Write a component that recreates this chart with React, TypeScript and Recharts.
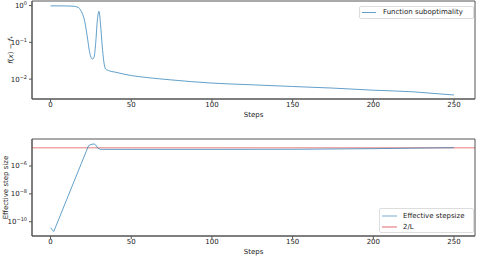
import React from 'react';
import { LineChart, Line, XAxis, YAxis, ReferenceLine, ReferenceArea } from 'recharts';

const xTicks = [0, 50, 100, 150, 200, 250];

const subSteps = [0, 5, 10, 14, 17, 19, 21, 23, 24, 25, 26, 27, 28, 29, 30, 31, 32, 33, 34, 36, 40, 50, 60, 75, 100, 125, 150, 175, 200, 225, 240, 250];
const subValues = [0.98, 0.98, 0.975, 0.96, 0.9, 0.7, 0.4, 0.12, 0.06, 0.04, 0.035, 0.04, 0.1, 0.4, 0.7, 0.3, 0.08, 0.03, 0.019, 0.017, 0.0155, 0.0125, 0.011, 0.0095, 0.0078, 0.007, 0.0063, 0.0057, 0.005, 0.0045, 0.004, 0.0037];
const subTicks = [0.01, 0.1, 1];

const stepSteps = [0, 2, 10, 19, 22, 23.5, 25, 27, 28, 29.5, 31, 50, 100, 150, 175, 200, 225, 250];
const stepValues = [3.7e-11, 2e-11, 3.9e-9, 1.45e-6, 1.05e-5, 2.8e-5, 3.5e-5, 3.8e-5, 3.2e-5, 1.8e-5, 1.55e-5, 1.55e-5, 1.55e-5, 1.57e-5, 1.65e-5, 1.75e-5, 1.9e-5, 2.05e-5];
const stepTicks = [1e-10, 1e-8, 1e-6];
const twoOverL = 2.05e-5;

const topData = subSteps.map((s, i) => ({ step: s, value: subValues[i] }));
const bottomData = stepSteps.map((s, i) => ({ step: s, value: stepValues[i] }));

const FONT = 'DejaVu Sans';
const BLUE = '#1f77b4';
const RED = '#d62728';
const SPINE = '#555';

const LogTick = (props: any) => {
  const { x, y, payload } = props;
  const exp = Math.round(Math.log10(payload.value));
  const e = exp < 0 ? '\u2212' + Math.abs(exp) : String(exp);
  return (
    <text x={x} y={y + 2.5} textAnchor="end" fontFamily={FONT} fontSize={7} fill="#222">
      <tspan>10</tspan>
      <tspan dy={-3} fontSize={5}>{e}</tspan>
    </text>
  );
};

const XTick = (props: any) => {
  const { x, y, payload } = props;
  return (
    <text x={x} y={y + 3} textAnchor="middle" fontFamily={FONT} fontSize={7} fill="#222">
      {payload.value}
    </text>
  );
};

const TopYLabel = (props: any) => {
  const vb = props.viewBox;
  const cx = 12.5;
  const cy = vb.y + vb.height / 2;
  return (
    <g transform={`translate(${cx},${cy}) rotate(-90)`}>
      <text x={0} y={0} textAnchor="middle" fontFamily={FONT} fontSize={7} fill="#222">
        <tspan fontStyle="italic">f</tspan>(<tspan fontStyle="italic">x</tspan>){' \u2212 '}<tspan fontStyle="italic">f</tspan><tspan fontSize={5} dy={1.5}>*</tspan>
      </text>
    </g>
  );
};

const BottomYLabel = (props: any) => {
  const vb = props.viewBox;
  const cx = 8;
  const cy = vb.y + vb.height / 2;
  return (
    <text transform={`translate(${cx},${cy}) rotate(-90)`} textAnchor="middle" fontFamily={FONT} fontSize={7} fill="#222">
      Effective step size
    </text>
  );
};

const legendBox: React.CSSProperties = {
  position: 'absolute', border: '1px solid #ddd', borderRadius: 2, background: 'rgba(255,255,255,0.8)',
  fontFamily: FONT, fontSize: 7, color: '#222', boxSizing: 'border-box',
};

const TopLegend = () => (
  <div style={{ ...legendBox, left: 359, top: 6, width: 115, height: 13 }}>
    <div style={{ position: 'absolute', left: 2, top: 5, width: 14, height: 1, background: BLUE, opacity: 0.7 }} />
    <div style={{ position: 'absolute', left: 23, top: 0, lineHeight: '11px', whiteSpace: 'nowrap' }}>Function suboptimality</div>
  </div>
);

const BottomLegend = () => (
  <div style={{ ...legendBox, left: 379, top: 208, width: 95, height: 25 }}>
    <div style={{ position: 'absolute', left: 2, top: 6, width: 15, height: 2, background: BLUE, opacity: 0.3 }} />
    <div style={{ position: 'absolute', left: 23, top: 1, lineHeight: '12px', whiteSpace: 'nowrap' }}>Effective stepsize</div>
    <div style={{ position: 'absolute', left: 2, top: 16.5, width: 15, height: 2, background: RED, opacity: 0.35 }} />
    <div style={{ position: 'absolute', left: 23, top: 11.5, lineHeight: '12px', whiteSpace: 'nowrap' }}>2/L</div>
  </div>
);

const topDomain: [number, number] = [0.00288, 1.33];
const botDomain: [number, number] = [9.5e-12, 8.6e-5];
const xDomain: [number, number] = [-11.5, 263];

export default function App() {
  return (
    <div style={{ position: 'absolute', left: 0, top: 0, width: 477, height: 256, background: '#fff' }}>
      <div style={{ position: 'absolute', left: 0, top: 0 }}>
        <LineChart width={477} height={128} data={topData} margin={{ top: 1, right: 2, bottom: 0, left: 0 }}>
          <XAxis dataKey="step" type="number" domain={xDomain} ticks={xTicks} allowDataOverflow height={29} interval={0}
            tick={<XTick />} tickSize={3} tickLine={{ stroke: SPINE }} axisLine={{ stroke: SPINE }}
            label={{ value: 'Steps', position: 'insideBottom', offset: 11, style: { fontFamily: FONT, fontSize: 7, fill: '#222' } }} />
          <YAxis type="number" scale="log" domain={topDomain} ticks={subTicks} allowDataOverflow width={32} interval={0}
            tick={<LogTick />} tickSize={3} tickLine={{ stroke: SPINE }} axisLine={{ stroke: SPINE }}
            label={<TopYLabel />} />
          <ReferenceArea x1={xDomain[0]} x2={xDomain[1]} y1={topDomain[0]} y2={topDomain[1]} fill="none" stroke={SPINE} strokeWidth={1} ifOverflow="visible" />
          <Line dataKey="value" type="monotone" stroke={BLUE} strokeOpacity={0.7} strokeWidth={1} dot={false} isAnimationActive={false} />
        </LineChart>
      </div>
      <div style={{ position: 'absolute', left: 0, top: 128 }}>
        <LineChart width={477} height={128} data={bottomData} margin={{ top: 11, right: 2, bottom: 0, left: 0 }}>
          <XAxis dataKey="step" type="number" domain={xDomain} ticks={xTicks} allowDataOverflow height={20} interval={0}
            tick={<XTick />} tickSize={3} tickLine={{ stroke: SPINE }} axisLine={{ stroke: SPINE }}
            label={{ value: 'Steps', position: 'insideBottom', offset: 2, style: { fontFamily: FONT, fontSize: 7, fill: '#222' } }} />
          <YAxis type="number" scale="log" domain={botDomain} ticks={stepTicks} allowDataOverflow width={32} interval={0}
            tick={<LogTick />} tickSize={3} tickLine={{ stroke: SPINE }} axisLine={{ stroke: SPINE }}
            label={<BottomYLabel />} />
          <ReferenceArea x1={xDomain[0]} x2={xDomain[1]} y1={botDomain[0]} y2={botDomain[1]} fill="none" stroke={SPINE} strokeWidth={1} ifOverflow="visible" />
          <ReferenceLine y={twoOverL} stroke={RED} strokeOpacity={0.4} strokeWidth={1.5} />
          <Line dataKey="value" type="linear" stroke={BLUE} strokeOpacity={0.7} strokeWidth={1} dot={false} isAnimationActive={false} />
        </LineChart>
      </div>
      <TopLegend />
      <BottomLegend />
    </div>
  );
}
